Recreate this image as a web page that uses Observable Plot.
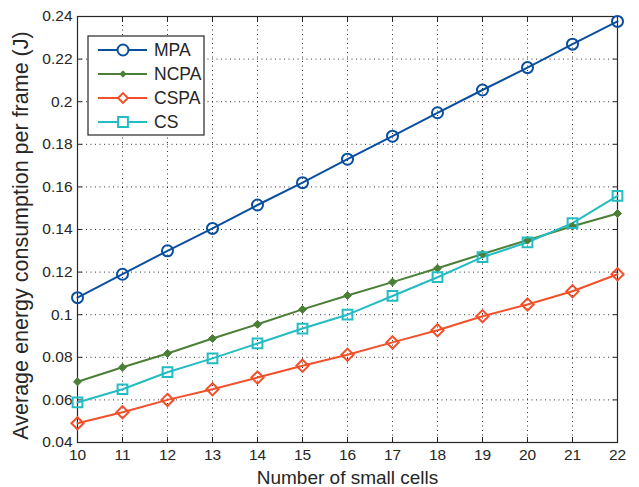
<!DOCTYPE html>
<html><head><meta charset="utf-8">
<script src="https://cdn.jsdelivr.net/npm/d3@7"></script>
<script src="https://cdn.jsdelivr.net/npm/@observablehq/plot@0.6"></script>
<style>
body{margin:0;background:#fff;}
svg{font-family:"Liberation Sans",Arial,Helvetica,sans-serif;}
</style>
</head><body><div id="chart"></div>
<script>
const cells = [10,11,12,13,14,15,16,17,18,19,20,21,22];
const seriesNames = ["MPA","NCPA","CSPA","CS"];
const mpa  = [0.108,0.119,0.130,0.1405,0.1515,0.162,0.173,0.1838,0.1948,0.2055,0.216,0.227,0.2377];
const ncpa = [0.0685,0.0753,0.0818,0.0888,0.0955,0.1025,0.109,0.1153,0.1218,0.1285,0.135,0.1415,0.1475];
const cspa = [0.049,0.0542,0.060,0.065,0.0705,0.076,0.0812,0.087,0.0927,0.0993,0.1048,0.111,0.119];
const cs   = [0.0588,0.065,0.073,0.0795,0.0865,0.0935,0.1,0.1088,0.1176,0.127,0.134,0.143,0.1558];
const colors = ["#0a4f9f","#4b7f36","#f2502a","#24bcc3"];
const xTicks = [10,11,12,13,14,15,16,17,18,19,20,21,22];
const yTicks = [0.04,0.06,0.08,0.1,0.12,0.14,0.16,0.18,0.2,0.22,0.24];
const xLabel = "Number of small cells";
const yLabel = "Average energy consumption per frame (J)";

const values = [mpa, ncpa, cspa, cs];
const data = [];
seriesNames.forEach((s, i) => cells.forEach((c, j) => data.push({series: s, cells: c, value: values[i][j]})));
const sub = s => data.filter(d => d.series === s);

const fmt = d => String(+d.toFixed(2));
const gridStyle = {stroke: "#000", strokeOpacity: 0.8, strokeDasharray: "1,3.5", strokeWidth: 1};

const chart = Plot.plot({
  width: 639, height: 487,
  marginLeft: 77, marginRight: 22, marginTop: 16, marginBottom: 45,
  style: {fontSize: "15.5px", color: "#262626", background: "#fff"},
  x: {domain: [10, 22]},
  y: {domain: [0.04, 0.24]},
  color: {domain: seriesNames, range: colors},
  marks: [
    Plot.gridX(xTicks.slice(1, -1), gridStyle),
    Plot.gridY(yTicks.slice(1, -1), gridStyle),
    Plot.axisX(xTicks, {anchor: "bottom", tickSize: -5, tickPadding: 11, label: null, stroke: "#262626"}),
    Plot.axisX(xTicks, {anchor: "top", tickSize: -5, tickFormat: () => "", label: null, stroke: "#262626"}),
    Plot.axisY(yTicks, {anchor: "left", tickSize: -5, tickPadding: 10, tickFormat: fmt, label: null, stroke: "#262626"}),
    Plot.axisY(yTicks, {anchor: "right", tickSize: -5, tickFormat: () => "", label: null, stroke: "#262626"}),
    Plot.text([xLabel], {text: d => d, frameAnchor: "bottom", textAnchor: "middle", lineAnchor: "middle", dy: 35.5, fontSize: 19, fill: "#262626"}),
    Plot.text([yLabel], {text: d => d, frameAnchor: "left", textAnchor: "middle", lineAnchor: "middle", rotate: -90, dx: -56, dy: 6, fontSize: 21.5, fill: "#262626"}),
    Plot.frame({stroke: "#262626", strokeWidth: 1.2}),
    Plot.line(data, {x: "cells", y: "value", z: "series", stroke: "series", strokeWidth: 2}),
    Plot.dot(sub("MPA"), {x: "cells", y: "value", symbol: "circle", r: 5.5, stroke: colors[0], strokeWidth: 2, fill: "none"}),
    Plot.dot(sub("NCPA"), {x: "cells", y: "value", symbol: "diamond2", r: 3.6, stroke: colors[1], strokeWidth: 1, fill: colors[1]}),
    Plot.dot(sub("CSPA"), {x: "cells", y: "value", symbol: "diamond2", r: 5.5, stroke: colors[2], strokeWidth: 2, fill: "none"}),
    Plot.dot(sub("CS"), {x: "cells", y: "value", symbol: "square", r: 5.5, stroke: colors[3], strokeWidth: 2, fill: "none"})
  ]
});
document.getElementById("chart").appendChild(chart);

// Legend box (inside the plot, top-left)
const svg = d3.select(chart);
const lg = svg.append("g").attr("transform", "translate(88,36)");
lg.append("rect").attr("width", 116).attr("height", 99).attr("fill", "#fff").attr("stroke", "#262626").attr("stroke-width", 1.2);
const sym = [d3.symbolCircle, d3.symbolDiamond2, d3.symbolDiamond2, d3.symbolSquare];
seriesNames.forEach((s, i) => {
  const g = lg.append("g").attr("transform", `translate(0,${14 + i * 24})`);
  g.append("line").attr("x1", 10).attr("x2", 59).attr("stroke", colors[i]).attr("stroke-width", 2);
  const r = i === 1 ? 3.6 : 5.5;
  const size = i === 0 ? Math.PI * r * r : (i === 3 ? 4 * r * r * 0.8 : 2 * r * r);
  g.append("path").attr("transform", "translate(35,0)")
    .attr("d", d3.symbol(sym[i], size)())
    .attr("fill", i === 1 ? colors[i] : "#fff").attr("stroke", colors[i]).attr("stroke-width", i === 1 ? 1 : 2);
  g.append("text").attr("x", 66).attr("dy", "0.36em").attr("text-anchor", "start")
    .attr("font-size", 17.5).attr("fill", "#262626").text(s);
});
</script>
</body></html>
